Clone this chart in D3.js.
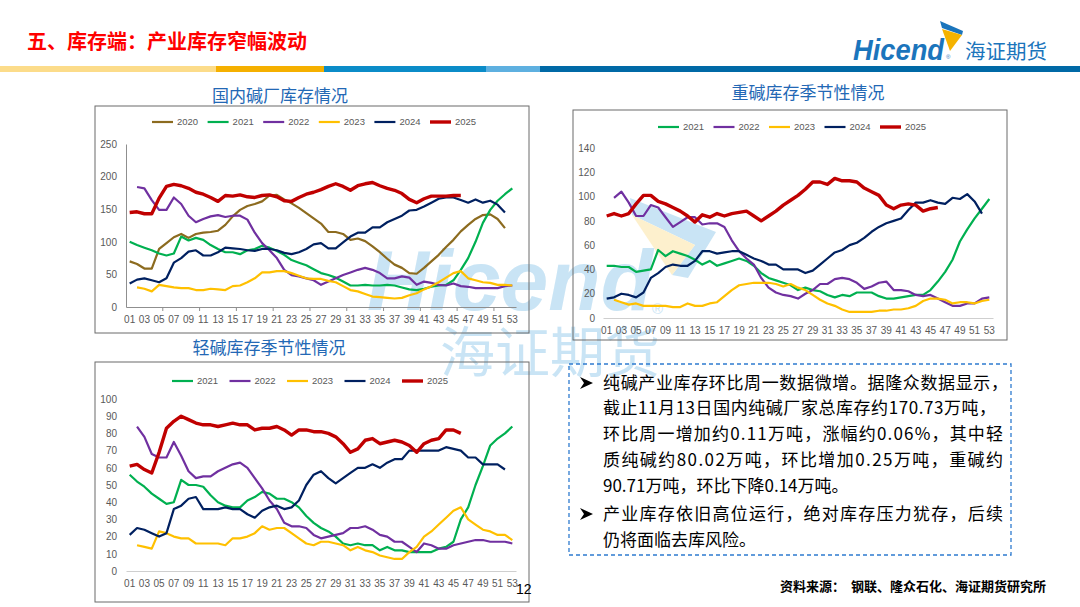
<!DOCTYPE html>
<html>
<head>
<meta charset="utf-8">
<script src="https://cdn.jsdelivr.net/npm/d3@7"></script>
<style>
  html, body { margin: 0; padding: 0; background: #fff; }
  svg { display: block; }
</style>
</head>
<body>
<script>
// week categories 01..53, labels every other week
var weeks = d3.range(1, 54).map(function(w) { return (w < 10 ? "0" : "") + w; });
var weekLabels = weeks.filter(function(w, i) { return i % 2 === 0; });

// 国内碱厂库存 (万吨)
var total2020 = [70,66,59,59,89,98,107,112,106,112,114,115,117,126,139,149,155,158,162,171,172,165,159,152,144,136,128,115,115,112,103,105,101,93,84,74,65,60,52,51,60,70,80,92,103,116,126,135,141,142,135,121];
var total2021 = [100,95,91,87,82,79,82,108,102,106,103,95,89,84,84,81,87,89,94,91,86,80,72,68,64,58,52,49,45,39,33,33,34,33,33,34,33,30,27,26,28,31,33,34,41,57,75,100,129,149,163,173,182];
var total2022 = [null,184,182,164,149,149,168,158,140,130,135,139,141,138,140,140,134,114,98,87,75,57,49,47,44,41,34,39,44,49,53,57,60,57,52,44,44,47,45,34,39,37,34,33,36,32,31,29,29,29,29,32,33];
var total2023 = [null,30,28,24,34,32,30,29,29,26,26,28,27,26,32,33,38,44,53,53,55,55,52,48,44,43,43,40,38,32,26,24,20,16,15,14,13,14,18,21,27,32,38,45,52,55,44,41,38,37,34,34,33];
var total2024 = [36,42,44,41,38,44,68,75,85,87,79,79,84,91,90,89,87,86,89,89,87,83,81,84,89,96,98,90,90,99,108,114,114,122,122,130,135,140,148,149,154,160,166,168,168,164,160,165,160,163,157,145];
var total2025 = [145,146,143,143,167,185,188,186,182,176,173,168,162,171,170,172,169,168,171,172,169,163,162,168,173,176,180,185,189,185,179,186,189,191,186,182,179,174,165,160,166,170,170,170,171,171];

// 重碱库存
var heavy2021 = [43,43,42,42,38,39,40,56,51,55,53,51,48,44,47,43,45,47,49,47,43,37,33,31,29,27,23,25,23,22,19,17,19,18,21,21,21,18,16,16,17,18,19,19,23,30,38,48,63,73,82,90,98];
var heavy2022 = [null,99,104,95,84,84,93,91,83,75,79,83,83,77,78,78,75,64,55,49,44,33,25,21,19,18,16,20,23,28,28,32,33,32,29,24,26,29,30,23,23,22,19,18,19,16,13,10,10,12,12,16,17];
var heavy2023 = [null,15,13,11,12,10,10,10,10,9,9,12,10,10,12,13,18,23,27,28,29,29,29,28,26,28,25,23,19,15,12,10,7,5,5,5,5,6,6,7,7,8,10,14,16,16,15,12,13,13,12,14,15];
var heavy2024 = [16,17,20,19,17,21,33,37,42,44,43,43,47,55,55,53,54,55,55,52,49,47,44,44,40,40,40,37,39,44,49,54,56,60,62,66,71,75,78,80,82,89,95,95,97,95,94,99,98,102,96,86];
var heavy2025 = [84,86,84,86,94,101,101,96,94,91,88,84,79,85,83,86,84,86,87,88,84,80,84,88,93,97,101,106,112,112,110,115,113,113,112,107,104,101,93,90,93,94,93,88,90,91];

// 轻碱库存
var light2021 = [56,52,49,45,42,39,40,53,50,50,49,44,40,38,37,37,41,43,46,45,42,42,40,37,32,28,25,23,20,16,15,16,15,15,12,14,12,12,11,11,11,11,13,14,17,30,37,50,61,73,77,80,84];
var light2022 = [null,84,78,68,66,66,75,67,58,54,55,55,58,60,62,63,60,54,48,41,36,28,26,26,25,21,19,20,21,22,25,25,26,24,21,20,17,17,14,11,16,15,13,13,15,16,17,18,18,17,17,17,16];
var light2023 = [null,15,14,13,23,22,20,19,19,16,16,16,16,15,19,19,20,22,26,24,25,25,22,19,16,15,17,17,16,15,12,14,12,11,9,8,7,7,11,14,20,23,27,31,35,37,30,27,24,23,21,21,18];
var light2024 = [21,25,24,22,20,22,36,38,42,43,36,36,36,37,36,36,33,31,35,37,38,36,37,41,50,56,58,54,51,54,57,60,60,62,60,63,65,65,70,70,70,70,70,72,71,70,66,66,62,62,62,59];
var light2025 = [61,62,59,57,69,83,87,90,88,86,85,85,84,85,86,85,85,82,83,83,84,82,79,82,82,81,81,80,78,74,69,71,76,77,74,75,76,75,73,69,74,76,77,82,82,80];

var yearColors = { "2020": "#8c6b1f", "2021": "#00b050", "2022": "#7030a0", "2023": "#ffc000", "2024": "#002060", "2025": "#c00000" };

var textLines = [
    "纯碱产业库存环比周一数据微增。据隆众数据显示，",
    "截止11月13日国内纯碱厂家总库存约170.73万吨，",
    "环比周一增加约0.11万吨，涨幅约0.06%，其中轻",
    "质纯碱约80.02万吨，环比增加0.25万吨，重碱约",
    "90.71万吨，环比下降0.14万吨。",
    "产业库存依旧高位运行，绝对库存压力犹存，后续",
    "仍将面临去库风险。"
];

var cjk = "'Noto Sans CJK SC', 'Noto Sans', sans-serif";
var latin = "'Liberation Sans', Arial, sans-serif";

let svg = d3.select("body").append("svg")
    .attr("width", 1080)
    .attr("height", 607);

// header stripes
var stripes = [[0, 216, "#fcdc8a"], [216, 324, "#f5b000"], [324, 486, "#0b8cc8"], [486, 540, "#5eb0e0"], [540, 1080, "#0069a6"]];
stripes.forEach(function(s) {
    svg.append("rect").attr("x", s[0]).attr("y", 66).attr("width", s[1] - s[0]).attr("height", 6).attr("fill", s[2]);
});

svg.append("text")
    .text("五、库存端：产业库存窄幅波动")
    .attr("x", 27).attr("y", 49)
    .attr("font-family", cjk).attr("font-size", 20).attr("font-weight", "bold")
    .attr("fill", "#ff0000");

// logo top right
svg.append("polygon").attr("points", "940,21 963,31 962,35 942,28").attr("fill", "#1b75bc");
svg.append("polygon").attr("points", "942,29 962,35 950,51").attr("fill", "#f5b300");
svg.append("text").text("Hicend")
    .attr("x", 853).attr("y", 60)
    .attr("font-family", latin).attr("font-size", 30).attr("font-weight", "bold").attr("font-style", "italic")
    .attr("textLength", 91).attr("lengthAdjust", "spacingAndGlyphs")
    .attr("fill", "#1b75bc");
svg.append("text").text("®").attr("x", 946).attr("y", 59)
    .attr("font-family", latin).attr("font-size", 6).attr("fill", "#1b75bc");
svg.append("text").text("海证期货")
    .attr("x", 965).attr("y", 59)
    .attr("font-family", cjk).attr("font-size", 20)
    .attr("textLength", 82).attr("lengthAdjust", "spacingAndGlyphs")
    .attr("fill", "#1b75bc");

// watermark
let wm = svg.append("g").attr("opacity", 0.9);
wm.append("polygon").attr("points", "630,198 716,232 688,278 672,275 695,245 632,215").attr("fill", "#c4e2f4");
wm.append("polygon").attr("points", "632,215 695,245 672,275").attr("fill", "#fdefc8");
wm.append("text").text("Hicend")
    .attr("x", 367).attr("y", 310)
    .attr("font-family", latin).attr("font-size", 85).attr("font-weight", "bold").attr("font-style", "italic")
    .attr("textLength", 286).attr("lengthAdjust", "spacingAndGlyphs")
    .attr("fill", "#c4e2f4");
wm.append("text").text("®").attr("x", 652).attr("y", 314)
    .attr("font-family", latin).attr("font-size", 15).attr("fill", "#c4e2f4");
wm.append("text").text("海证期货")
    .attr("x", 440).attr("y", 372)
    .attr("font-family", cjk).attr("font-size", 55)
    .attr("textLength", 220).attr("lengthAdjust", "spacingAndGlyphs")
    .attr("fill", "#c4e2f4");

// one seasonal line chart
function drawChart(o)
{
    let g = svg.append("g");

    g.append("rect")
        .attr("x", o.frame[0]).attr("y", o.frame[1])
        .attr("width", o.frame[2]).attr("height", o.frame[3])
        .attr("fill", "none").attr("stroke", "#6b6b6b").attr("stroke-width", 1);

    g.append("text").text(o.title)
        .attr("x", o.titleX).attr("y", o.titleY)
        .attr("text-anchor", "middle")
        .attr("font-family", cjk).attr("font-size", 17)
        .attr("fill", "#2368b5");

    var x = d3.scaleBand().domain(weeks).range([o.x0, o.x1]);
    var y = d3.scaleLinear().domain([0, o.ymax]).range([o.yb, o.yt]);
    var bw = x.bandwidth();

    // x axis
    let xa = g.append("g")
        .attr("transform", "translate(0," + o.yb + ")")
        .call(d3.axisBottom(x).tickValues(weekLabels).tickSize(0).tickSizeOuter(0).tickPadding(o.xPad));
    xa.select(".domain").attr("stroke", o.axisColor);
    xa.selectAll("text").attr("font-family", latin).attr("font-size", 10).attr("fill", "#595959");

    if (o.tickMarks) {
        d3.range(5, 51, 5).forEach(function(k) {
            g.append("line")
                .attr("x1", x(weeks[k])).attr("x2", x(weeks[k]))
                .attr("y1", o.yb).attr("y2", o.yb + 4)
                .attr("stroke", o.axisColor);
        });
    }

    // y axis
    let ya = g.append("g")
        .attr("transform", "translate(" + o.x0 + ",0)")
        .call(d3.axisLeft(y).ticks(o.ymax / o.ystep).tickSize(0).tickPadding(o.yPad));
    if (o.yLine) ya.select(".domain").attr("stroke", o.axisColor);
    else ya.select(".domain").remove();
    ya.selectAll("text").attr("font-family", latin).attr("font-size", 10).attr("fill", "#595959");

    // series
    var line = d3.line()
        .defined(function(d) { return d !== null; })
        .x(function(d, i) { return x(weeks[i]) + bw / 2; })
        .y(function(d) { return y(d); });

    o.series.forEach(function(s) {
        g.append("path")
            .attr("d", line(s.values))
            .attr("fill", "none")
            .attr("stroke", yearColors[s.name])
            .attr("stroke-width", s.name === "2025" ? 3.4 : 2.2)
            .attr("stroke-linejoin", "round");
    });

    // legend
    o.series.forEach(function(s, i) {
        var lx = o.legendX + i * o.legendStep;
        g.append("line")
            .attr("x1", lx).attr("x2", lx + 21)
            .attr("y1", o.legendY).attr("y2", o.legendY)
            .attr("stroke", yearColors[s.name])
            .attr("stroke-width", s.name === "2025" ? 3.4 : 2.2);
        g.append("text").text(s.name)
            .attr("x", lx + 25).attr("y", o.legendY)
            .attr("dy", "0.35em")
            .attr("font-family", latin).attr("font-size", 9.5)
            .attr("fill", "#595959");
    });
}

drawChart({
    title: "国内碱厂库存情况", titleX: 280, titleY: 102,
    frame: [95, 106, 434, 227],
    x0: 126, x1: 516, yb: 307, yt: 144, ymax: 250, ystep: 50,
    xPad: 9, yPad: 9, axisColor: "#8f8f8f", yLine: true, tickMarks: true,
    legendX: 152, legendStep: 55.6, legendY: 122,
    series: [
        { name: "2020", values: total2020 },
        { name: "2021", values: total2021 },
        { name: "2022", values: total2022 },
        { name: "2023", values: total2023 },
        { name: "2024", values: total2024 },
        { name: "2025", values: total2025 }
    ]
});

drawChart({
    title: "重碱库存季节性情况", titleX: 808, titleY: 99,
    frame: [573, 110, 434, 230],
    x0: 603, x1: 993, yb: 318, yt: 148, ymax: 140, ystep: 20,
    xPad: 9, yPad: 8, axisColor: "#cfcfcf", yLine: false, tickMarks: false,
    legendX: 658, legendStep: 55.5, legendY: 127,
    series: [
        { name: "2021", values: heavy2021 },
        { name: "2022", values: heavy2022 },
        { name: "2023", values: heavy2023 },
        { name: "2024", values: heavy2024 },
        { name: "2025", values: heavy2025 }
    ]
});

drawChart({
    title: "轻碱库存季节性情况", titleX: 269, titleY: 354,
    frame: [95, 362, 434, 240],
    x0: 126, x1: 516, yb: 571, yt: 399, ymax: 100, ystep: 10,
    xPad: 9, yPad: 9, axisColor: "#cfcfcf", yLine: false, tickMarks: false,
    legendX: 172, legendStep: 57.5, legendY: 381,
    series: [
        { name: "2021", values: light2021 },
        { name: "2022", values: light2022 },
        { name: "2023", values: light2023 },
        { name: "2024", values: light2024 },
        { name: "2025", values: light2025 }
    ]
});

// page number
svg.append("text").text("12")
    .attr("x", 516).attr("y", 594)
    .attr("font-family", latin).attr("font-size", 14).attr("fill", "#000");

// text box
svg.append("rect")
    .attr("x", 569).attr("y", 364).attr("width", 442).attr("height", 191)
    .attr("fill", "none").attr("stroke", "#2e7bcf").attr("stroke-width", 1.3)
    .attr("stroke-dasharray", "4,3");

var lineY = [389, 414, 440, 466, 492, 520, 546];
var lineLen = [405, 393, 400, 400, null, 400, null];
textLines.forEach(function(t, i) {
    let tx = svg.append("text").text(t)
        .attr("x", 603).attr("y", lineY[i])
        .attr("font-family", cjk).attr("font-size", 17)
        .attr("fill", "#000");
    if (lineLen[i]) tx.attr("textLength", lineLen[i]).attr("lengthAdjust", "spacing");
});
[0, 5].forEach(function(i) {
    var by = lineY[i] - 12;
    svg.append("path")
        .attr("d", "M580," + by + " L593," + (by + 6) + " L580," + (by + 12) + " L584," + (by + 6) + " Z")
        .attr("fill", "#000");
});

// source
svg.append("text").text("资料来源：  钢联、隆众石化、海证期货研究所")
    .attr("x", 780).attr("y", 591)
    .attr("font-family", cjk).attr("font-size", 13).attr("font-weight", "bold")
    .attr("xml:space", "preserve")
    .attr("fill", "#000");
</script>
</body>
</html>
